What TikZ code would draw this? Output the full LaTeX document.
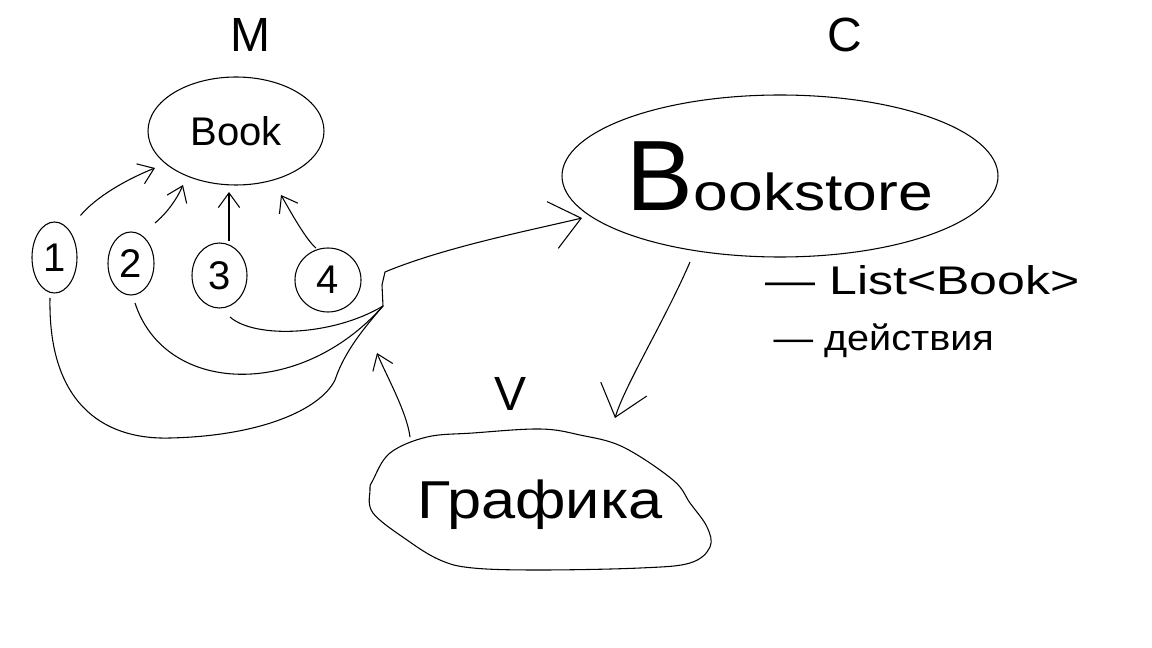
\documentclass[tikz,border=0pt]{standalone}
\usepackage{fontspec}
\usepackage{graphicx}
\setmainfont{Liberation Sans}
\usetikzlibrary{shapes.geometric,arrows.meta}
\newcommand\myfs[1]{\fontsize{#1}{#1}\selectfont}
\begin{document}
\begin{tikzpicture}[x=0.75pt,y=-0.75pt,
  line width=0.8pt,
  ell/.style={draw,ellipse,inner sep=0pt},
  arr/.style={-{Straight Barb[length=11pt,width=16pt]}},
  bigarr/.style={-{Straight Barb[length=22pt,width=36pt]}},
  lbl/.style={inner sep=0pt}]
\path[use as bounding box,fill=white] (0,0) rectangle (1152,648);

% layer labels
\node[lbl,font=\myfs{36pt}] (M) at (250,35) {M};
\node[lbl,font=\myfs{36pt}] (C) at (845,35) {C};
\node[lbl,font=\myfs{36pt}] (V) at (510,394) {V};

% model
\node[ell,minimum width=132pt,minimum height=81pt,font=\myfs{30pt}] (book) at (236,131) {Book};
\node[ell,minimum width=33.75pt,minimum height=53.25pt,font=\myfs{30pt}] (c1) at (54.5,257.5) {1};
\node[ell,minimum width=34.5pt,minimum height=47.25pt,font=\myfs{30pt}] (c2) at (131,263.5) {2};
\node[ell,minimum width=41.25pt,minimum height=48.75pt,font=\myfs{30pt}] (c3) at (219.5,275.5) {3};
\node[ell,minimum width=49.5pt,minimum height=48pt,font=\myfs{30pt}] (c4) at (328,280) {4};

% controller
\node[ell,minimum width=327pt,minimum height=121.5pt] (store) at (780,176)
  {{\myfs{75pt}B}{\myfs{39pt}\scalebox{1.2}[1]{ookstore}}};
\node[lbl,anchor=base west,font=\myfs{30pt}] (list) at (765,295) {\scalebox{1.25}[1]{— List<Book>}};
\node[lbl,anchor=base west,font=\myfs{27pt}] (act) at (773,350) {\scalebox{1.1}[1]{— действия}};

% view
\node[lbl,font=\myfs{40pt}] (graf) at (540,505) {\scalebox{1.15}[1]{Графика}};
\draw plot[smooth cycle,tension=0.6] coordinates {(373,480) (390,453) (427,437) (473,433) (540,429) (580,435) (623,447) (673,480) (690,503) (707,527) (710,547) (690,563) (640,568) (540,570) (473,568) (440,560) (407,540) (373,513) (370,490)};

% arrows to Book
\draw[arr] ([shift={(26,-42)}]c1.center) .. controls +(15,-18) and +(-30,12) .. ([shift={(-81,37)}]book.center);
\draw[arr] ([shift={(24,-40.5)}]c2.center) .. controls +(12,-10) and +(-6,14) .. ([shift={(-53,54)}]book.center);
\draw[arr] ([shift={(9.5,-34.5)}]c3.center) -- ([shift={(-7,61)}]book.center);
\draw[arr] ([shift={(-12,-32)}]c4.center) .. controls +(-10,-8) and +(8,14) .. ([shift={(45,64)}]book.center);

% curves to the junction
\coordinate (j) at (383,306);
\draw ([shift={(10.5,41.5)}]c3.center) .. controls +(25,22) and +(-50,30) .. (j);
\draw ([shift={(4,39.5)}]c2.center) .. controls +(30,92) and +(-83,94) .. (j);
\draw ([shift={(-4.5,40.5)}]c1.center) .. controls +(-2,102) and +(-70,2) .. (170,438)
  .. controls +(90,-2) and +(-15,30) .. (335,380) .. controls +(10,-30) and +(-17,20) .. (j);

% junction to Bookstore
\draw[bigarr] (j) -- (382,285) -- (385,272) .. controls +(60,-25) and +(-50,12) .. ([shift={(-198,42)}]store.center);

% Bookstore to view
\draw[bigarr] ([shift={(-90,86)}]store.center) .. controls +(-25,58) and +(10,-33) .. ([shift={(75,-87)}]graf.center);

% view back
\coordinate (up) at (377,353);
\draw[arr] ([shift={(-130,-68)}]graf.center) .. controls +(-3,-25) and +(8,20) .. (up);
\end{tikzpicture}
\end{document}
